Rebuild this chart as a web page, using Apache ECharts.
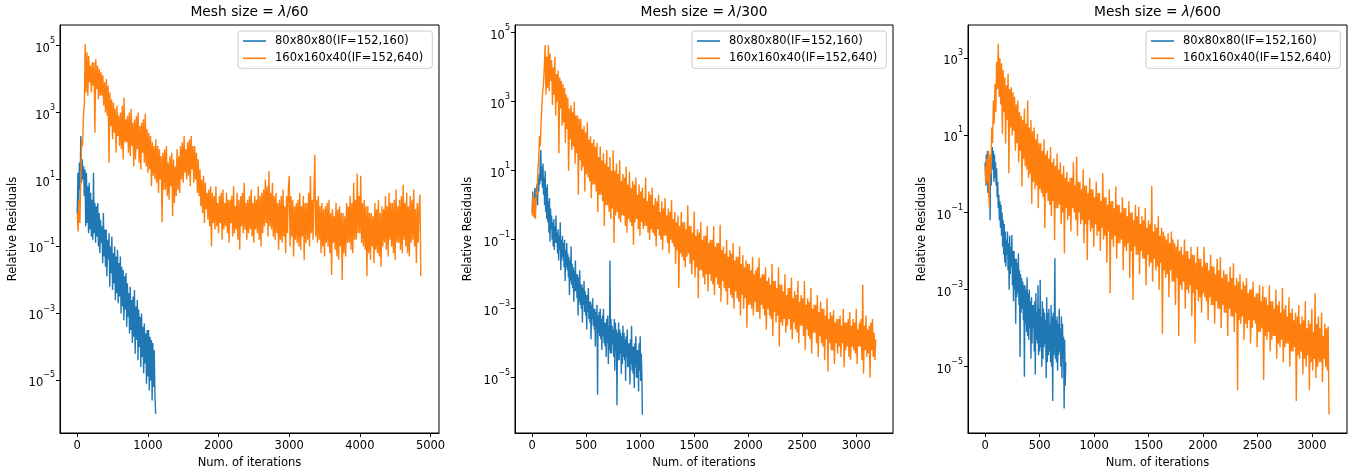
<!DOCTYPE html>
<html>
<head>
<meta charset="utf-8">
<script src="https://cdn.jsdelivr.net/npm/echarts@6/dist/echarts.min.js"></script>
<style>html,body{margin:0;padding:0;background:#fff}#c{width:1359px;height:475px}</style>
</head>
<body>
<div id="c"></div>
<script>
// ---------- data ----------
const seriesNames = ['80x80x80(IF=152,160)', '160x160x40(IF=152,640)'];
const meshDivisors = ['60', '300', '600'];
const xTickValues = [
  [0, 1000, 2000, 3000, 4000, 5000],
  [0, 500, 1000, 1500, 2000, 2500, 3000],
  [0, 500, 1000, 1500, 2000, 2500, 3000]
];
const yTickExponents = [
  [-5, -3, -1, 1, 3, 5],
  [-5, -3, -1, 1, 3, 5],
  [-5, -3, -1, 1, 3]
];
const xRanges = [[-244, 5120], [-159, 3340], [-158, 3323]];
const yLog10Ranges = [[-6.572, 5.617], [-6.603, 5.222], [-6.719, 3.864]];

// iteration step between stored samples
const p1BlueStep = 10, p1OrangeStep = 12.5;
const p2BlueStep = 5, p2OrangeStep = 7.5;
const p3BlueStep = 5, p3OrangeStep = 7.5;

const p1Blue = [1,1.6e1,1.6,3.2e1,5,2e2,8,4e1,1e1,2.5e1,
3.2,2e1,4e-1,1.6e1,5e-1,6.3,2.5e-1,8,3.2e-1,4,
2e-1,2.5,1.6e-1,1.6e1,2.5e-1,2,1.3e-1,1.6,2e-1,2,
1e-1,1,6.3e-2,6.3e-1,1.3e-1,4e-1,3.2e-2,1,5e-2,3.2e-1,
2.5e-2,3.2e-1,1.3e-2,1.6e-1,4e-2,2.5e-1,6.3e-3,1e-1,1.6e-2,2e-1,
5e-3,6.3e-2,8e-3,1e-1,2.5e-3,5e-2,4e-3,8e-2,2e-3,3.2e-2,
3.2e-3,5e-2,1e-3,2.5e-2,1.6e-3,2e-2,6.3e-4,1.3e-2,1.3e-3,1.6e-2,
4e-4,8e-3,8e-4,4e-3,2.5e-4,6.3e-3,3.2e-4,2.5e-3,1.3e-4,3.2e-3,
2e-4,5e-3,6.3e-5,1.6e-3,1.6e-4,2.5e-3,4e-5,1.3e-3,1e-4,8e-4,
2.5e-5,1e-3,5e-5,4e-4,1.6e-5,5e-4,3.2e-5,2.5e-4,8e-6,3.2e-4,
1.3e-5,3.2e-4,5e-6,2e-4,1e-5,1.6e-4,2.5e-6,1.3e-4,6.3e-6,8e-5,
3.2e-6,1e-6];

const p1Orange = [1,2.8e-1,2.5,5e-1,
1e1,1.6e2,1e2,8e2,
1.6e3,1.1e5,4e3,6.3e4,
3.2e3,5e4,8e3,2.5e4,
4e3,3.2e4,6.3e3,3.2e4,
2.5e2,4e4,5e3,2.5e4,
2.5e3,2e4,3.2e3,1.6e4,
3.2e3,1.3e4,1.6e3,8e3,
1e3,1e4,8e2,6.3e3,
3.2e1,4e3,4e2,2.5e3,
1.6e2,2e3,2.5e2,1.3e3,
6.3e1,1.6e3,2e2,8e2,
1e2,1e3,8e1,1.6e3,
4e1,2.8e3,1.3e2,6.3e2,
1.3e2,8e2,6.3e1,1e3,
5e1,1.3e3,1e2,5e2,
2.5e1,6.3e2,4e1,8e2,
8e1,1e3,3.2e1,4e2,
2e1,5e2,6.3e1,6.3e2,
3.2e1,9.3e2,2.5e1,3.2e2,
1.6e1,2.5e2,2e1,2e2,
6.3,1.3e2,1.3e1,1e2,
1e1,1.6e2,8,1e2,
4,8e1,1e1,5e1,
5.2e-1,6.3e1,5,8e1,
5,1e2,3.2,3.2e1,
2.5,5e1,6.3,6.3e1,
8e-1,4e1,2,2.5e1,
3.2,8e1,5,5e1,
4,1e2,1e1,1.3e2,
8,2e2,1.6e1,8e1,
1e1,1.3e2,1.3e1,1.6e2,
6.3,2e2,2e1,1e2,
8,1e2,1e1,6.3e1,
4,4e1,3.2,2e1,
1.6,1e1,1,1.3e1,
5e-1,8,1.3,4,
6.3e-1,5,4e-1,6.3,
1e-1,4,5e-1,3.2,
3.2e-1,6.3,4e-1,2,
2.5e-1,3.2,5e-1,4,
1.6e-1,5,3.2e-1,2,
4e-1,4,2.5e-1,2.5,
1.3e-1,2.5,5e-1,3.2,
2e-1,6.3,2.5e-1,1.6,
3.2e-1,4,1.6e-1,2.5,
8e-2,3.2,4e-1,4,
2.5e-1,8,3.2e-1,2,
1.6e-1,2.5,2.5e-1,3.2,
3.2e-1,5,2e-1,2,
1.3e-1,3.2,3.2e-1,2.5,
2.5e-1,6.3,1.6e-1,3.2,
1e-1,4,2.5e-1,5,
4e-1,1e1,5e-1,6.3,
2e-1,1.8e1,4e-1,4,
3.2e-1,8,2e-1,3.2,
1.6e-1,4,2.5e-1,2,
8e-2,2.5,1.6e-1,3.2,
1.3e-1,5,2e-1,1.6,
6.3e-2,3.2,2.5e-1,5,
1.3e1,1e-1,3.2,2e-1,
2.5,5e-2,1.6,1.6e-1,
2,1.3e-1,2.5,1e-1,
4,8e-2,1.6,2e-1,
3.2,4e-2,2,1.3e-1,
2,1.6e-1,4,1e-1,
1.3e1,2.5e-1,2.5,1.6e-1,
4,5.5e1,2e-1,2.5,
1.3e-1,3.2,1.6e-1,1.6,
6.3e-2,2,1e-1,1.3,
5e-2,1.6,1.3e-1,2,
1e-1,2.5,6.3e-2,1,
1.4e-2,1.3,1.3e-1,8e-1,
8e-2,2,5e-2,1.3,
4e-2,1.6,1e-1,1,
1e-2,1,6.3e-2,8e-1,
5e-2,2,1.3e-1,1.6,
1.3e-1,3.2,8e-2,2,
6.3e-2,8,1.6e-1,2.5,
1.6e-1,1.5e1,2.5e-1,3.2,
2.5e-1,1.3e1,1.3e-1,2,
1e-1,2.5,8e-2,1.6,
1.3e-2,1.6,6.3e-2,1,
4e-2,1,1e-1,8e-1,
3.2e-2,2,8e-2,1.3,
6.3e-2,2.5,5e-2,1,
2.5e-2,1.6,1e-1,1.3,
1.3e-1,3.2,8e-2,1.6,
5e-2,4,1.6e-1,2,
1e-1,2,6.3e-2,2.5,
4e-2,5,1.3e-1,1.6,
1.3e-1,2.5,8e-2,3.2,
6.3e-2,7,1.6e-1,2,
1e-1,4,6.3e-2,1.6,
5e-2,3.2,1.3e-1,2.5,
1.6e-1,5,1e-1,1.3,
3.2e-2,2,1.3e-1,1.6,
3.5,1.3e-2];

const p2Blue = [6.3e-1,2.5,5e-1,1.6,
4.5e-1,3.2,8e-1,2,
2,4,1,6.3,
2.5,8,4,2e1,
4e1,5,1.3e1,3.2,
1.6e1,2,6.3,1,
1e1,6.3e-1,3.2,4e-1,
4,3.2e-1,1.3,1.6e-1,
1.6,8.7e-2,8e-1,2e-1,
5e-1,1e-1,3.2e-1,6.3e-2,
4e-1,5e-2,2.5e-1,8e-2,
5e-1,8e-2,1.6e-1,4e-2,
2e-1,2.5e-2,1.3e-1,5e-2,
3.2e-1,1.3e-2,1e-1,2.5e-2,
1.3e-1,3.2e-2,8e-2,1.6e-2,
1e-1,6.3e-3,5e-2,1.6e-2,
8e-2,1.3e-2,4e-2,8e-3,
3.2e-2,2.5e-3,2.5e-2,6.3e-3,
6.3e-2,5e-3,2e-2,4e-3,
1.6e-2,1.6e-3,1.3e-2,3.2e-3,
2.5e-2,3.2e-3,1e-2,2e-3,
1e-2,6.3e-4,8e-3,1.6e-3,
1.3e-2,1.3e-3,5e-3,1e-3,
5e-3,4e-4,4e-3,1.3e-3,
6.3e-3,8e-4,3.2e-3,6.3e-4,
2.5e-3,2.5e-4,2.5e-3,8e-4,
4e-3,5e-4,1.6e-3,4e-4,
1.6e-3,1.3e-4,1.3e-3,5e-4,
2e-3,3.2e-4,1e-3,2.5e-4,
1e-3,8e-5,8e-4,3.2e-4,
1.3e-3,3.2e-6,6.3e-4,2e-4,
8e-4,1.6e-4,1e-3,1.3e-4,
5e-4,6.3e-5,6.3e-4,1.6e-4,
1e-3,1e-4,4e-4,8e-5,
4e-4,4e-5,5e-4,1e-4,
6.3e-4,2.5e-5,3.2e-4,6.3e-5,
2.5e-2,5e-5,5e-4,5e-5,
3.2e-4,1e-4,2.5e-4,4e-5,
5e-4,1.6e-5,4e-4,6.3e-5,
2.5e-4,1.6e-6,2e-4,3.2e-5,
4e-4,3.2e-5,2.5e-4,5e-5,
2e-4,1.3e-5,1.6e-4,2.5e-5,
3.2e-4,4e-5,2e-4,3.2e-5,
1.3e-4,8e-6,1.6e-4,4e-5,
2.5e-4,2e-5,1e-4,2e-5,
1e-4,6.3e-6,1.3e-4,2.5e-5,
3.2e-4,1.6e-5,8e-5,1.3e-5,
8e-5,5e-6,1e-4,2e-5,
1.6e-4,1e-5,6.3e-5,1e-5,
6.3e-5,4e-6,1e-4,1.6e-5,
1.6e-4,8e-6,5e-5,1.3e-5,
8.5e-7];

const p2Orange = [5e-1,2,4.5e-1,1.6,
4e-1,2.5,2,1e1,
2e1,1e2,5e1,2.5e2,
8e2,2e3,3.2e3,1e4,
4.4e4,1.6e3,2e4,2.5e3,
4.4e4,2e3,2.5e4,4e3,
1.6e4,8e2,1e4,1.6e3,
2e4,4e2,6.3e3,1e3,
8e3,3.2e1,5e3,6.3e2,
4e3,2e2,3.2e3,2.5e2,
2.5e3,6.3e1,1.6e3,1.6e2,
1.3e3,1e1,6.3e2,8e1,
8e2,4e1,5e2,5e1,
1e3,1.6e1,4e2,3.2e1,
4e2,2,3.2e2,2e1,
3.2e2,1e1,1.6e2,1.3e1,
2e2,2.5,1.3e2,8,
2.5e2,6.3,8e1,5,
1e2,1.6,6.3e1,4,
8e1,4,5e1,2.5,
6.3e1,6.3e-1,2.5e1,2,
5e1,2,2e1,1.3,
3.2e1,2.5e-1,1.6e1,1,
4e1,1,1.3e1,6.3e-1,
2.5e1,4e-1,1e1,8e-1,
4e1,8e-2,1e1,5e-1,
1.6e1,6.3e-1,8,4e-1,
2e1,3.2e-1,5,5e-1,
8,5e-1,6.3,2.5e-1,
1.3e1,1.6e-1,4,4e-1,
9.3,3.2e-1,3.2,2.5e-1,
5,7e-2,4,3.2e-1,
6.3,4e-1,2,2e-1,
4,1.3e-1,2.5,3.2e-1,
3.2,2e-1,1.6,2.5e-1,
6.3,2.5e-1,1.3,1.6e-1,
2.5,1e-1,2,2e-1,
3.2,1.6e-1,1,1.3e-1,
1.6,6.3e-2,1.3,2e-1,
2,1.3e-1,6.3e-1,1e-1,
1.3,5e-2,8e-1,1.3e-1,
1.6,1.3e-1,5e-1,8e-2,
8e-1,4e-2,6.3e-1,1e-1,
1.4,8e-2,4e-1,6.3e-2,
6.3e-1,2e-2,3.2e-1,5e-2,
5e-1,4e-3,2.5e-1,4e-2,
6.3e-1,3.2e-2,3.2e-1,2.5e-2,
3.2e-1,1.6e-2,2e-1,3.2e-2,
1,4e-2,2.5e-1,2e-2,
2.5e-1,1e-2,1.6e-1,2.5e-2,
6.5e-1,8e-3,1.3e-1,1.6e-2,
2e-1,2e-3,1.6e-1,1.3e-2,
3.2e-1,1.3e-2,1e-1,8e-3,
1.3e-1,5e-3,1.3e-1,1e-2,
2.5e-1,3.2e-3,8e-2,1e-2,
1e-1,6.3e-3,1e-1,5e-3,
2.5e-1,2.5e-3,6.3e-2,8e-3,
8e-2,5e-3,8e-2,4e-3,
2.7e-1,1.6e-3,5e-2,6.3e-3,
6.3e-2,4e-3,4e-2,3.2e-3,
1e-1,1.3e-3,3.2e-2,4e-3,
5e-2,2.5e-3,4e-2,2e-3,
8e-2,1e-3,2.5e-2,3.2e-3,
3.2e-2,2e-3,3.2e-2,1.6e-3,
6.3e-2,6.3e-4,2e-2,2.5e-3,
3.6e-2,1e-3,1.6e-2,2e-3,
2.5e-2,2.8e-4,2e-2,1.3e-3,
2e-2,1.3e-3,1.3e-2,1e-3,
3.2e-2,6.3e-4,1e-2,1.6e-3,
1.3e-2,8e-4,1.6e-2,8e-4,
3e-2,5e-4,8e-3,1.3e-3,
1e-2,1e-3,1e-2,6.3e-4,
1.6e-2,2.5e-4,6.3e-3,1e-3,
8e-3,6.3e-4,5e-3,5e-4,
2e-2,1.6e-4,6.3e-3,8e-4,
6.3e-3,4e-4,4e-3,6.3e-4,
1.6e-2,8e-5,5e-3,4e-4,
5e-3,3.2e-4,3.2e-3,5e-4,
1e-2,2e-4,2.5e-3,3.2e-4,
4e-3,5e-4,4e-3,2.5e-4,
8e-3,1.3e-4,2e-3,4e-4,
3.2e-3,2.5e-4,2.5e-3,2e-4,
6.3e-3,1e-4,1.6e-3,3.2e-4,
2.5e-3,3.2e-4,2e-3,1.6e-4,
6.3e-3,6.3e-5,1.3e-3,2.5e-4,
2e-3,1.6e-4,1.6e-3,1.3e-4,
4e-3,5e-5,1e-3,2e-4,
1.3e-3,2e-4,1.3e-3,1e-4,
2.5e-3,4e-5,8e-4,1.6e-4,
1.6e-3,1e-4,1e-3,8e-5,
1e-3,3.2e-5,6.3e-4,1.3e-4,
2e-3,1.5e-5,5e-4,1e-4,
8e-4,6.3e-5,6.3e-4,6.3e-5,
9e-4,2.5e-5,4e-4,1e-4,
5e-4,5e-5,5e-4,8e-5,
6.3e-4,4e-5,3.2e-4,1e-4,
1e-3,2e-5,4e-4,6.3e-5,
4e-4,8e-5,5e-4,4e-5,
8e-4,3.2e-5,3.2e-4,8e-5,
5e-4,6.3e-5,4e-4,5e-5,
1e-3,2.5e-5,2.5e-4,8e-5,
4e-4,8e-5,5e-4,3.2e-5,
4.9e-3,1.3e-5,3.2e-4,6.3e-5,
6.3e-4,4e-5,2.5e-4,5e-5,
3.2e-4,1e-5,4e-4,6.3e-5,
5e-4,4e-5,2e-4,3.2e-5,
1.3e-4];

const p3Blue = [2,5e-1,3.2,6.3e-1,
4,3.2e-1,2,2.5e-1,
1.6,6.3e-2,3.2,5e-1,
2.5,5,1.3,4,
6.3e-1,3.2,8e-1,2,
5e-1,1.4,2.5e-1,6.3e-1,
1.3e-1,2.9e-1,6.3e-2,2e-1,
4e-2,1.6e-1,2.5e-2,1e-1,
1.3e-2,6.3e-2,8e-3,5e-2,
5e-3,3.2e-2,4e-3,2e-2,
8e-3,3.2e-2,3.2e-3,1.6e-2,
1e-3,2.5e-2,2.5e-3,1.3e-2,
4e-3,2.6e-2,1.3e-3,1e-2,
5e-4,1e-2,1e-3,6.3e-3,
1.3e-4,6.3e-3,6.3e-4,5e-3,
8e-4,8.7e-3,4e-4,3.2e-3,
1.8e-5,2.5e-3,2.5e-4,2e-3,
3.2e-4,1.6e-3,1.6e-4,1.3e-3,
5.5e-6,1.3e-3,1.3e-4,1e-3,
8e-5,2.1e-3,6.3e-5,8e-4,
5e-5,1e-3,1e-4,5e-4,
1.6e-5,6.3e-4,4e-5,4e-4,
1e-4,4e-4,2.5e-5,5e-4,
6.3e-6,8e-4,5e-5,2.5e-4,
4e-5,1.3e-3,2e-5,3.2e-4,
2.5e-5,1.8e-3,3.2e-5,2e-4,
1e-5,5e-4,1.6e-5,3.2e-4,
3.2e-5,2.5e-4,4e-5,1.6e-4,
5e-6,6.3e-4,1.3e-5,2.5e-4,
2e-5,3.2e-4,2.5e-5,1.3e-4,
1.3e-5,4e-4,1e-5,2e-4,
1.3e-6,2.5e-4,2e-5,1.6e-4,
6.5e-3,1.6e-5,1.6e-4,1.3e-5,
2e-4,8e-6,1.3e-4,2e-5,
3.2e-4,2.5e-5,1e-4,1e-5,
2e-4,5e-6,1.3e-4,1.6e-5,
6e-5,8.3e-7,5e-5,3.2e-6,
1.3e-5];

const p3Orange = [1.6,5e-1,2.5,6.3e-1,
4,1.4e-1,3.2,1,
1.6e1,6.3,8e1,2e1,
2.2e2,4e1,8e2,1.6e2,
2.4e3,1e2,1e3,6.3e1,
7.4e2,1.1e1,5e2,4e1,
3.2e2,6.2,2e2,2.5e1,
4e2,1.05,1.6e2,1.6e1,
1.8e2,1e1,1.3e2,1.3e1,
1e2,4,6.3e1,6.3,
8e1,2,4e1,4,
3.2e1,4.7e-1,2.5e1,2.5,
5e1,1.6,2e1,1.3,
8e1,8e-1,1.6e1,1,
2.5e1,1.7e-1,1.3e1,6.3e-1,
1.6e1,4e-1,8,5e-1,
1.1e1,1.3e-1,6.3,4e-1,
6.3,3.2e-1,4,2.5e-1,
8,3.9e-2,3.2,3.2e-1,
4,2e-1,2.5,1.6e-1,
5,8e-2,2,2e-1,
2.5,1.9e-2,1.6,1.3e-1,
3.4,1.3e-1,1.3,1.6e-1,
2,5e-2,1,1e-1,
1.6,8.7e-3,8e-1,1.3e-1,
1.1,6.3e-2,6.3e-1,8e-2,
8e-1,3.2e-2,8e-1,1.3e-1,
2,1e-1,5e-1,6.3e-2,
2.8,2.5e-2,6.3e-1,1e-1,
6.3e-1,5e-2,4e-1,6.3e-2,
1.3,1.6e-2,5e-1,5e-2,
5e-1,5.9e-3,3.2e-1,6.3e-2,
8e-1,3.2e-2,4e-1,4e-2,
4e-1,1.3e-2,2.5e-1,5e-2,
6.3e-1,2.5e-2,3.2e-1,3.2e-2,
3.2e-1,1e-2,2e-1,4e-2,
1.05,2e-2,2.5e-1,2.5e-2,
2.5e-1,5e-3,1.6e-1,3.2e-2,
4e-1,8e-4,2e-1,2e-2,
2e-1,1.3e-2,1.3e-1,2.5e-2,
4.7e-1,6.3e-3,1.6e-1,1.6e-2,
1.6e-1,1.6e-2,1e-1,2e-2,
2.5e-1,3.2e-3,1.3e-1,1.3e-2,
1.3e-1,1e-2,8e-2,1.6e-2,
2e-1,2e-3,1e-1,1e-2,
1e-1,5.4e-4,6.3e-2,1.3e-2,
1.6e-1,8e-3,8e-2,8e-3,
1.4e-1,2.5e-3,5e-2,1e-2,
8e-2,6.3e-3,6.3e-2,6.3e-3,
1.3e-1,1.3e-3,4e-2,8e-3,
6.3e-2,4e-3,5e-2,5e-3,
4.9e-1,1.6e-3,3.2e-2,6.3e-3,
5e-2,3.2e-3,4e-2,4e-3,
8e-2,1e-3,2.5e-2,5e-3,
4e-2,7.2e-5,3.2e-2,3.2e-3,
2.5e-2,2e-3,2e-2,2.5e-3,
2.9e-2,6.3e-4,1.6e-2,3.2e-3,
3.2e-2,1.6e-3,2e-2,1.6e-3,
1.6e-2,4e-4,1.3e-2,2e-3,
2e-2,6.3e-5,1e-2,1.3e-3,
1.3e-2,1e-3,8e-3,1.6e-3,
2e-2,3.2e-4,1e-2,1e-3,
1e-2,8e-4,6.3e-3,1.3e-3,
1.3e-2,2e-4,8e-3,8e-4,
8e-3,4e-5,5e-3,1e-3,
1.3e-2,5e-4,6.3e-3,6.3e-4,
6.3e-3,2.5e-4,4e-3,8e-4,
1.3e-2,6.3e-4,5e-3,5e-4,
5e-3,1.6e-4,3.2e-3,6.3e-4,
8e-3,4e-4,4e-3,4e-4,
4e-3,1.3e-4,2.5e-3,5e-4,
6.3e-3,3.2e-4,3.2e-3,3.2e-4,
7e-3,1e-4,2e-3,4e-4,
3.2e-3,2.5e-4,2.5e-3,2.5e-4,
2.5e-3,6.3e-5,1.6e-3,3.2e-4,
4e-3,2e-4,2e-3,2e-4,
4.8e-3,8e-5,1.3e-3,2.5e-4,
2e-3,2.5e-6,1.6e-3,1.6e-4,
2.5e-3,1.3e-4,1e-3,2e-4,
1.6e-3,5e-5,1.3e-3,1.3e-4,
2e-3,1e-4,8e-4,1.6e-4,
1e-3,4e-5,1e-3,1e-4,
1.6e-3,1.6e-4,6.3e-4,1.3e-4,
8e-4,3.2e-5,8e-4,8e-5,
1.3e-3,8e-5,5e-4,1e-4,
1.2e-3,4.5e-6,6.3e-4,6.3e-5,
6.3e-4,5e-5,4e-4,8e-5,
1.3e-3,2.5e-5,5e-4,5e-5,
5e-4,6.3e-5,3.2e-4,6.3e-5,
1e-3,1.6e-5,4e-4,4e-5,
5e-4,3.2e-5,2.5e-4,5e-5,
1.1e-3,1.3e-5,3.2e-4,3.2e-5,
4e-4,4e-5,2e-4,4e-5,
6.3e-4,1e-5,2.5e-4,2.5e-5,
3.2e-4,2.5e-5,1.6e-4,3.2e-5,
2.5e-4,1.3e-6,2e-4,2e-5,
4e-4,1.6e-5,1.3e-4,2.5e-5,
2e-4,6.3e-6,1.6e-4,1.6e-5,
5e-4,1e-5,1e-4,2e-5,
1.6e-4,2.5e-6,1.3e-4,1.3e-5,
3.2e-4,8e-6,8e-5,1.6e-5,
8e-4,5e-6,1.3e-4,1e-5,
2e-4,1.3e-5,1e-4,1.3e-5,
2.5e-4,4e-6,6.3e-5,1.6e-5,
1.3e-4,1e-5,1e-4,8e-6,
1.1e-4,5.8e-7];

// ---------- chart ----------
const FONT = "'DejaVu Sans', sans-serif";
const BLUE = '#1f77b4', ORANGE = '#ff7f0e';
const panels = [
  {blue: p1Blue, blueStep: p1BlueStep, orange: p1Orange, orangeStep: p1OrangeStep},
  {blue: p2Blue, blueStep: p2BlueStep, orange: p2Orange, orangeStep: p2OrangeStep},
  {blue: p3Blue, blueStep: p3BlueStep, orange: p3Orange, orangeStep: p3OrangeStep}
];
const grids = [
  {left: 60, top: 25, width: 379, height: 408},
  {left: 515, top: 25, width: 378, height: 408},
  {left: 968, top: 25, width: 379, height: 408}
];
const legendLefts = [238, 692, 1146];
const yNameGaps = [41, 41, 40];

function toPoints(vals, step) { return vals.map((v, i) => [i * step, v]); }
function supLabel(v) {
  const s = v < 0 ? '\u2212' + Math.abs(v) : String(v);
  return '{b|10}{s|' + s + '}';
}

const option = {
  backgroundColor: '#fff',
  animation: false,
  textStyle: {fontFamily: FONT},
  title: meshDivisors.map((d, k) => ({
    text: 'Mesh size = {i|\u03bb}/' + d,
    left: grids[k].left + grids[k].width / 2,
    top: 5,
    textAlign: 'center',
    padding: 0,
    textStyle: {
      fontSize: 13.8, fontWeight: 'normal', color: '#000', fontFamily: FONT,
      rich: {i: {fontSize: 13.8, fontStyle: 'italic', color: '#000', fontFamily: FONT}}
    }
  })),
  legend: legendLefts.map(l => ({
    data: seriesNames,
    orient: 'vertical',
    left: l,
    top: 31,
    icon: 'rect',
    itemWidth: 23,
    itemHeight: 1.6,
    itemGap: 3.3,
    padding: [3, 9, 3, 5],
    backgroundColor: 'rgba(255,255,255,0.8)',
    borderColor: '#cccccc',
    borderWidth: 1,
    borderRadius: 3,
    selectedMode: false,
    textStyle: {fontSize: 11.5, color: '#000', fontFamily: FONT, lineHeight: 14, padding: [0, 0, 0, 4]}
  })),
  grid: grids.map(g => Object.assign({show: true, borderColor: '#000', borderWidth: 1, backgroundColor: 'transparent', outerBoundsMode: 'none'}, g)),
  xAxis: xRanges.map((r, k) => ({
    type: 'value',
    gridIndex: k,
    min: r[0],
    max: r[1],
    position: 'bottom',
    axisLine: {show: true, onZero: false, lineStyle: {color: '#000', width: 1}},
    axisTick: {show: true, length: 4, lineStyle: {color: '#000', width: 1}, customValues: xTickValues[k]},
    axisLabel: {customValues: xTickValues[k], formatter: v => String(v), fontSize: 11.5, color: '#000', fontFamily: FONT, margin: 7},
    splitLine: {show: false},
    name: 'Num. of iterations',
    nameLocation: 'middle',
    nameGap: 22,
    nameTextStyle: {fontSize: 11.5, color: '#000', fontFamily: FONT}
  })),
  yAxis: [],
  series: []
};

yLog10Ranges.forEach((r, k) => {
  // data axis: logarithmic scale used by the series
  option.yAxis.push({
    type: 'log', logBase: 10, gridIndex: k, position: 'right', show: false,
    min: Math.pow(10, r[0]), max: Math.pow(10, r[1])
  });
  // decoration axis: same extent in decades, carries ticks/labels
  option.yAxis.push({
    type: 'value', gridIndex: k, position: 'left', min: r[0], max: r[1],
    axisLine: {show: true, onZero: false, lineStyle: {color: '#000', width: 1}},
    axisTick: {show: true, length: 4, lineStyle: {color: '#000', width: 1}, customValues: yTickExponents[k]},
    axisLabel: {
      customValues: yTickExponents[k], formatter: supLabel, margin: 5,
      rich: {
        b: {fontSize: 11.5, color: '#000', fontFamily: FONT, lineHeight: 18, verticalAlign: 'bottom'},
        s: {fontSize: 8, color: '#000', fontFamily: FONT, lineHeight: 10, verticalAlign: 'top'}
      }
    },
    splitLine: {show: false},
    name: 'Relative Residuals',
    nameLocation: 'middle',
    nameGap: yNameGaps[k],
    nameTextStyle: {fontSize: 11.5, color: '#000', fontFamily: FONT}
  });
});

panels.forEach((p, k) => {
  option.series.push({
    type: 'line', name: seriesNames[0], xAxisIndex: k, yAxisIndex: 2 * k,
    data: toPoints(p.blue, p.blueStep), symbol: 'none', showSymbol: false,
    lineStyle: {color: BLUE, width: 1.4, join: 'bevel'}, itemStyle: {color: BLUE}, z: 2
  });
  option.series.push({
    type: 'line', name: seriesNames[1], xAxisIndex: k, yAxisIndex: 2 * k,
    data: toPoints(p.orange, p.orangeStep), symbol: 'none', showSymbol: false,
    lineStyle: {color: ORANGE, width: 1.4, join: 'bevel'}, itemStyle: {color: ORANGE}, z: 3
  });
});

const chart = echarts.init(document.getElementById('c'), null, {renderer: 'canvas'});
chart.setOption(option);
</script>
</body>
</html>
